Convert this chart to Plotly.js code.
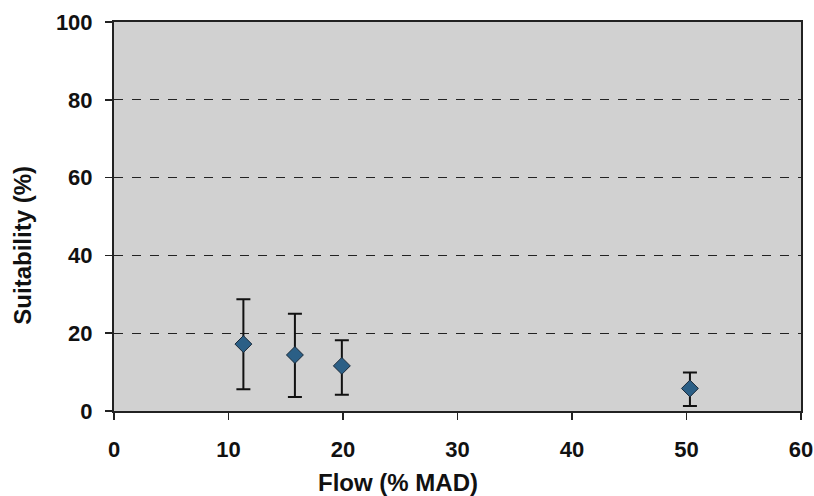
<!DOCTYPE html>
<html><head><meta charset="utf-8">
<script src="https://cdn.plot.ly/plotly-3.0.1.min.js"></script>
<style>body{margin:0;background:#fff}#c{width:814px;height:496px}</style>
</head><body><div id="c"></div>
<script>
const flow = [11.3, 15.8, 19.9, 50.3];
const suitability = [17.2, 14.4, 11.6, 5.8];
const errUpper = [11.5, 10.6, 6.6, 4.1];
const errLower = [11.6, 10.8, 7.4, 4.5];
const xTitle = 'Flow (% MAD)';
const yTitle = 'Suitability (%)';

const trace = {
  x: flow, y: suitability, type: 'scatter', mode: 'markers',
  marker: {symbol: 'diamond', size: 13, color: '#2b5f86', line: {color: '#1a2a3a', width: 1}},
  error_y: {type: 'data', symmetric: false, array: errUpper, arrayminus: errLower,
            color: '#111', thickness: 2, width: 7},
  showlegend: false
};
const fam = 'Liberation Sans, Arial, sans-serif';
const tickfont = {family: fam, size: 22, color: '#111', weight: 'bold'};
const titlefont = {family: fam, size: 24, color: '#111', weight: 'bold'};
const layout = {
  width: 814, height: 496,
  margin: {l: 114, r: 13, t: 22, b: 85},
  paper_bgcolor: '#fff', plot_bgcolor: '#d1d1d1',
  font: {family: fam, color: '#111'},
  xaxis: {range: [0, 60], dtick: 10, tick0: 0, showgrid: false, zeroline: false,
          showline: true, linecolor: '#222', linewidth: 2, mirror: true,
          ticks: 'outside', ticklen: 7, tickcolor: '#222', tickwidth: 1.5,
          ticklabelstandoff: 11, tickfont: tickfont},
  yaxis: {range: [0, 100], dtick: 20, tick0: 0, showgrid: true, gridcolor: '#222', griddash: 'dash', gridwidth: 1,
          zeroline: false, showline: true, linecolor: '#222', linewidth: 2, mirror: true,
          ticks: 'outside', ticklen: 7, tickcolor: '#222', tickwidth: 1.5,
          ticklabelstandoff: 8, tickfont: tickfont},
  annotations: [
    {text: xTitle, xref: 'paper', yref: 'paper', x: 0.413, y: 0, yshift: -71, xanchor: 'center', yanchor: 'middle',
     showarrow: false, font: titlefont},
    {text: yTitle, xref: 'paper', yref: 'paper', x: 0, xshift: -91, y: 0.425, xanchor: 'center', yanchor: 'middle',
     textangle: -90, showarrow: false, font: titlefont}
  ]
};
Plotly.newPlot('c', [trace], layout, {displayModeBar: false, staticPlot: true});
</script></body></html>
